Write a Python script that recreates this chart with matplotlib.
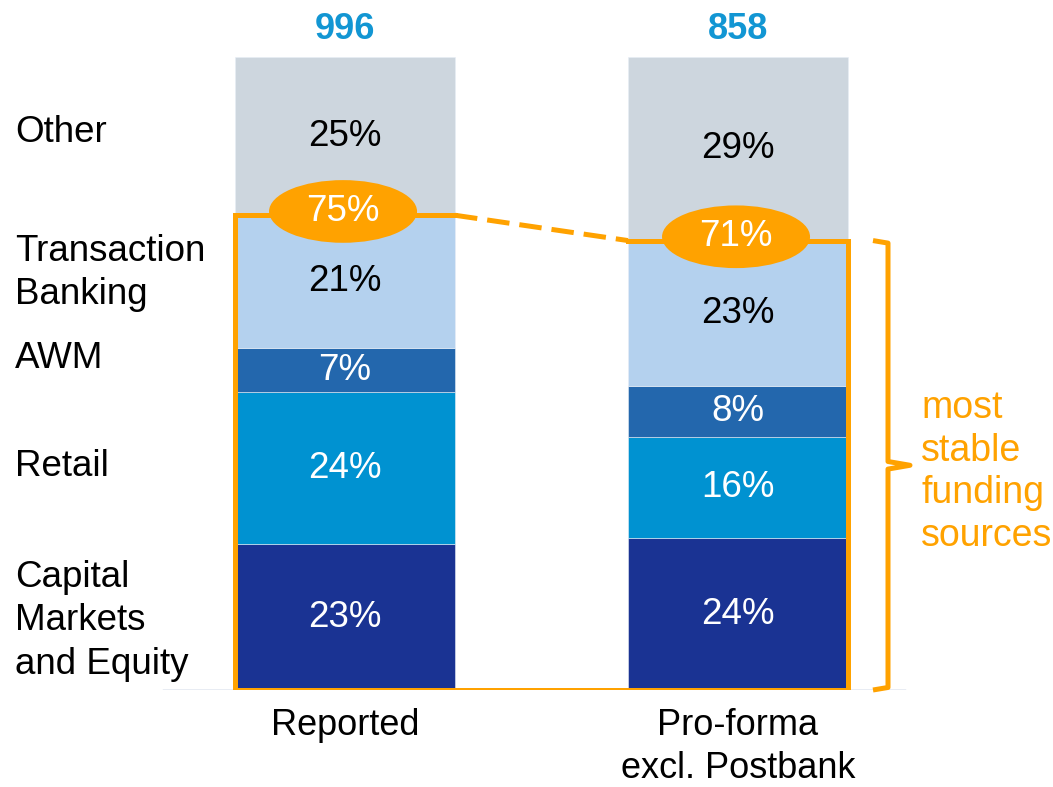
import matplotlib.pyplot as plt
import numpy as np
from matplotlib.patches import Ellipse

plt.rcParams["font.family"] = ["Liberation Sans", "DejaVu Sans"]

# data (bottom to top)
columns = ["Reported", "Pro-forma\nexcl. Postbank"]
totals = [996, 858]
segments = ["Capital\nMarkets\nand Equity", "Retail", "AWM", "Transaction\nBanking", "Other"]
reported = [23, 24, 7, 21, 25]
proforma = [24, 16, 8, 23, 29]
stable_share = [75, 71]

seg_colors = ["#1a3393", "#0092d1", "#2367ad", "#b4d1ee", "#cdd6de"]
text_colors = ["white", "white", "white", "black", "black"]
orange = "#ffa200"
blue_label = "#1296d3"

fig = plt.figure(figsize=(10.53, 7.87), dpi=100)
ax = fig.add_axes([0, 97 / 787, 1, 633 / 787])
ax.set_xlim(-345 / 393, (1053 - 345) / 393)
ax.set_ylim(0, 100)
ax.axis("off")

x = np.arange(len(columns))
w = 220 / 393
values = np.array([reported, proforma])
bottoms = np.zeros(len(columns))
for i, seg in enumerate(segments):
    vals = values[:, i]
    ax.bar(x, vals, width=w, bottom=bottoms, color=seg_colors[i],
           edgecolor="#e8eef6", linewidth=0.4, zorder=2)
    for j in range(len(columns)):
        ax.text(x[j], bottoms[j] + vals[j] / 2, f"{vals[j]}%", ha="center",
                va="center", fontsize=26.5, color=text_colors[i], zorder=5)
    bottoms += vals

# totals on top
for j, t in enumerate(totals):
    ax.text(x[j], 104.3, str(t), ha="center", va="center", fontsize=26,
            fontweight="bold", color=blue_label, clip_on=False)

# category labels on the left
label_y = [(690 - 621) / 6.33, (690 - 466) / 6.33, (690 - 358) / 6.33,
           (690 - 273) / 6.33, (690 - 133) / 6.33]
for lab, yv in zip(segments, label_y):
    ax.text(-330 / 393, yv, lab, ha="left", va="center", fontsize=26.5,
            linespacing=1.33, color="black")

# column labels below
for j, c in enumerate(columns):
    ax.text(x[j], -2.9, c, ha="center", va="top", fontsize=26,
            linespacing=1.3, color="black", clip_on=False)

# baseline and thin top connector
ax.plot([(163 - 345) / 393, (905 - 345) / 393], [0, 0], color="#8ea3c4",
        lw=1.0, zorder=1)
ax.plot([x[0] + w / 2, x[1] - w / 2], [100.3, 100.3], color="#8ea3c4",
        lw=0.8, ls=(0, (1, 1)), zorder=1)

# orange outline around stable funding share
lw = 3.6
l0, r0 = x[0] - w / 2, x[0] + w / 2
l1, r1 = x[1] - w / 2, x[1] + w / 2
ax.plot([r0, l0, l0, r1, r1, l1], [stable_share[0], stable_share[0], 0, 0,
        stable_share[1], stable_share[1]], color=orange, lw=lw,
        solid_joinstyle="miter", zorder=4)
ax.plot([r0, l1], stable_share, color=orange, lw=lw, ls=(0, (4.5, 2)),
        zorder=4)

for j, s in enumerate(stable_share):
    ax.add_patch(Ellipse((x[j] - 0.005, s + 0.6), 148 / 393, 9.9,
                         facecolor=orange, edgecolor="none", zorder=6))
    ax.text(x[j] - 0.005, s + 0.6, f"{s}%", ha="center", va="center",
            fontsize=26.5, color="white", zorder=7)

# bracket
bx0, bx1, btip = (873 - 345) / 393, (888 - 345) / 393, (910 - 345) / 393
top, mid = stable_share[1], stable_share[1] / 2
ax.plot([bx0, bx1, bx1, btip, bx1, bx1, bx0],
        [top, top - 0.4, mid + 0.6, mid, mid - 0.6, 0.4, 0],
        color=orange, lw=lw, solid_joinstyle="round", solid_capstyle="butt",
        clip_on=False, zorder=4)

ax.text((921 - 345) / 393, (690 - 472) / 6.33, "most\nstable\nfunding\nsources",
        ha="left", va="center", fontsize=27, linespacing=1.24, color=orange,
        clip_on=False)

fig.savefig("out.png", dpi=100)
